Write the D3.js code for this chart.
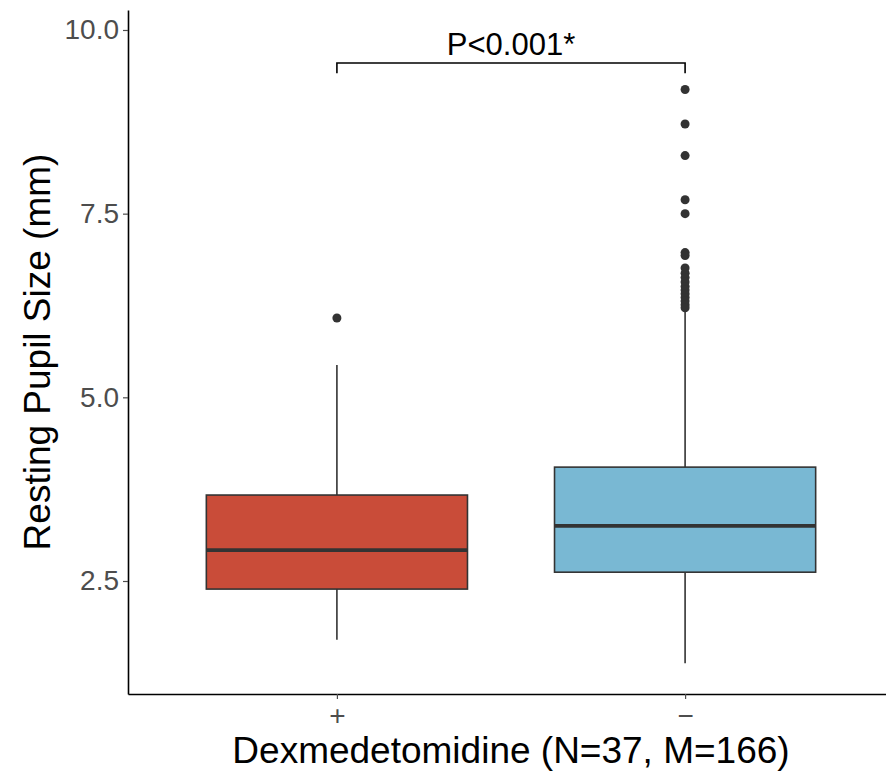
<!DOCTYPE html>
<html>
<head>
<meta charset="utf-8">
<script src="https://cdn.jsdelivr.net/npm/d3@7"></script>
<style>
  body { margin: 0; background: #fff; }
  text { font-family: "Liberation Sans", Arial, sans-serif; }
</style>
</head>
<body>
<div class="chart"></div>
<script>
// data
const groups = ['+', '\u2212'];
const q1 = [2.39, 2.62];
const medians = [2.92, 3.25];
const q3 = [3.67, 4.05];
const whiskerLow = [1.70, 1.38];
const whiskerHigh = [5.44, 6.18];
const outliersPlus = [6.08];
const outliersMinus = [9.19, 8.72, 8.29, 7.69, 7.50, 6.97, 6.93, 6.76, 6.69, 6.63, 6.57, 6.51, 6.46, 6.41, 6.36, 6.31, 6.26, 6.22];
const yTicks = [2.5, 5.0, 7.5, 10.0];
const fills = ['#c94c39', '#79b8d3'];
const pLabel = 'P<0.001*';
const bracketY = [9.55, 9.41];

const margin = { top: 10, left: 128, bottom: 82, right: -8 };
const W = 886, H = 776;
const width = W - margin.left - margin.right;
const height = H - margin.top - margin.bottom;

const svg = d3.select('.chart')
    .append('svg')
    .attr('width', W)
    .attr('height', H)
    .append('g')
    .attr('transform', `translate(${margin.left}, ${margin.top})`);

// scales
const xScale = d3.scalePoint()
    .domain(groups)
    .range([0, width])
    .padding(0.6);

const yScale = d3.scaleLinear()
    .domain([0.962, 10.272])
    .range([height, 0]);

const boxW = xScale.step() * 0.75;

// axes
const yAxis = d3.axisLeft(yScale)
    .tickValues(yTicks)
    .tickFormat(d3.format('.1f'))
    .tickSize(5)
    .tickSizeOuter(0)
    .tickPadding(4);

const yAxisDraw = svg.append('g').attr('class', 'y-axis').call(yAxis);
yAxisDraw.select('.domain').attr('stroke', '#000').attr('stroke-width', 1.6);
yAxisDraw.selectAll('.tick line').attr('stroke', '#4d4d4d').attr('stroke-width', 1.2);
yAxisDraw.selectAll('.tick text')
    .attr('fill', '#4d4d4d')
    .style('font-size', '28px');

const xAxis = d3.axisBottom(xScale)
    .tickSize(5)
    .tickSizeOuter(0)
    .tickPadding(6);

const xAxisDraw = svg.append('g')
    .attr('class', 'x-axis')
    .attr('transform', `translate(0, ${height})`)
    .call(xAxis);
xAxisDraw.select('.domain').attr('stroke', '#000').attr('stroke-width', 1.6);
xAxisDraw.selectAll('.tick line').attr('stroke', '#4d4d4d').attr('stroke-width', 1.2);
xAxisDraw.selectAll('.tick text')
    .attr('fill', '#4d4d4d')
    .style('font-size', '28px');

// boxes
const stats = groups.map((g, i) => ({
    g, q1: q1[i], med: medians[i], q3: q3[i],
    lo: whiskerLow[i], hi: whiskerHigh[i],
    fill: fills[i],
    out: i === 0 ? outliersPlus : outliersMinus
}));

const boxes = svg.append('g').attr('class', 'boxes')
    .selectAll('g')
    .data(stats)
    .enter()
    .append('g');

boxes.append('line')
    .attr('x1', d => xScale(d.g)).attr('x2', d => xScale(d.g))
    .attr('y1', d => yScale(d.hi)).attr('y2', d => yScale(d.q3))
    .attr('stroke', '#333').attr('stroke-width', 1.6);

boxes.append('line')
    .attr('x1', d => xScale(d.g)).attr('x2', d => xScale(d.g))
    .attr('y1', d => yScale(d.q1)).attr('y2', d => yScale(d.lo))
    .attr('stroke', '#333').attr('stroke-width', 1.6);

boxes.append('rect')
    .attr('x', d => xScale(d.g) - boxW / 2)
    .attr('width', boxW)
    .attr('y', d => yScale(d.q3))
    .attr('height', d => yScale(d.q1) - yScale(d.q3))
    .attr('fill', d => d.fill)
    .attr('stroke', '#333')
    .attr('stroke-width', 1.6);

boxes.append('line')
    .attr('x1', d => xScale(d.g) - boxW / 2).attr('x2', d => xScale(d.g) + boxW / 2)
    .attr('y1', d => yScale(d.med)).attr('y2', d => yScale(d.med))
    .attr('stroke', '#333').attr('stroke-width', 3.8);

boxes.selectAll('circle')
    .data(d => d.out.map(v => ({ g: d.g, v })))
    .enter()
    .append('circle')
    .attr('cx', d => xScale(d.g))
    .attr('cy', d => yScale(d.v))
    .attr('r', 4.5)
    .attr('fill', '#333');

// significance bracket
const bx0 = xScale(groups[0]), bx1 = xScale(groups[1]);
svg.append('path')
    .attr('d', `M${bx0},${yScale(bracketY[1])}V${yScale(bracketY[0])}H${bx1}V${yScale(bracketY[1])}`)
    .attr('fill', 'none')
    .attr('stroke', '#000')
    .attr('stroke-width', 1.6);

svg.append('text')
    .attr('x', (bx0 + bx1) / 2)
    .attr('y', yScale(bracketY[0]) - 8)
    .attr('text-anchor', 'middle')
    .style('font-size', '31px')
    .attr('fill', '#000')
    .text(pLabel);

// axis titles
svg.append('text')
    .attr('x', width / 2)
    .attr('y', height + 69)
    .attr('text-anchor', 'middle')
    .style('font-size', '37px')
    .attr('fill', '#000')
    .text('Dexmedetomidine (N=37, M=166)');

svg.append('text')
    .attr('transform', `translate(${50 - margin.left}, ${height / 2}) rotate(-90)`)
    .attr('text-anchor', 'middle')
    .style('font-size', '37px')
    .attr('fill', '#000')
    .text('Resting Pupil Size (mm)');
</script>
</body>
</html>
